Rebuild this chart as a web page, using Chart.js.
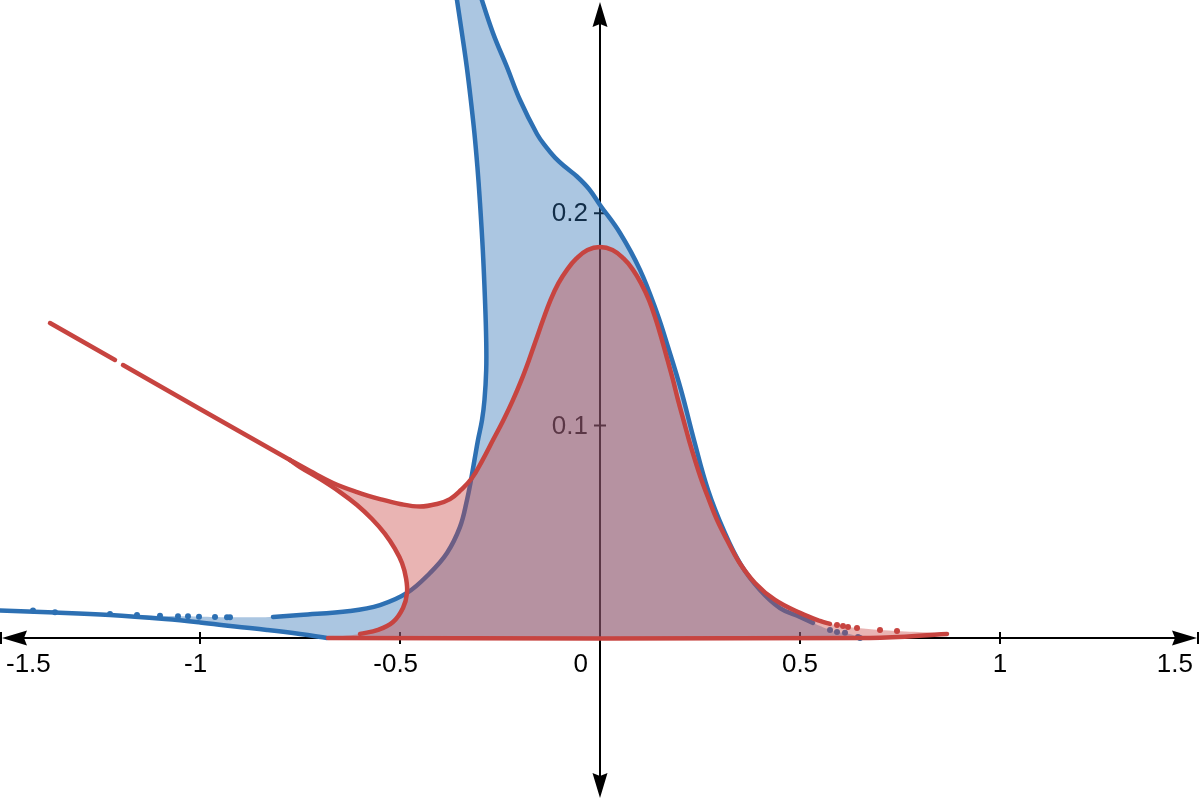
<!DOCTYPE html>
<html>
<head>
<meta charset="utf-8">
<title>Two shaded curves</title>
<script src="https://cdn.jsdelivr.net/npm/chart.js@4.4.1/dist/chart.umd.min.js"></script>
<style>
  html, body { margin: 0; padding: 0; background: #fff; }
  canvas { display: block; }
</style>
</head>
<body>
<canvas id="graph" width="1200" height="800"></canvas>
<script>
// Values, in graph units.
const xTicks = [-1.5, -1, -0.5, 0.5, 1, 1.5];
const yTicks = [0.1, 0.2];

// blue curve: left branch, top to bottom
const blueLeftX = [-0.3613, -0.3445, -0.333, -0.323, -0.314, -0.3065, -0.3005, -0.293, -0.2875, -0.2845, -0.2845, -0.2888, -0.295, -0.305, -0.3138, -0.3225, -0.3325, -0.35, -0.3825, -0.425, -0.4825, -0.55, -0.625, -0.75, -0.8175];
const blueLeftY = [0.3051, 0.2839, 0.2688, 0.2533, 0.2378, 0.2218, 0.2062, 0.1827, 0.1591, 0.1403, 0.1262, 0.1121, 0.1026, 0.0932, 0.0838, 0.0744, 0.0650, 0.0523, 0.0400, 0.0306, 0.0212, 0.0155, 0.0127, 0.0108, 0.0099];
// blue curve: broken (dotted) stretch on the far left
const blueDotsX = [-1.4175, -1.3625, -1.225, -1.1575, -1.10, -1.055, -1.03, -1.0025, -0.9625, -0.9325, -0.925];
const blueDotsY = [0.0129, 0.0121, 0.0113, 0.0108, 0.0104, 0.0102, 0.0102, 0.0100, 0.0099, 0.0097, 0.0097];
// blue curve: lower edge running down to the x axis
const blueLowX = [-1.5, -1.3625, -1.225, -1.0875, -1.0, -0.9125, -0.8325, -0.75, -0.6825];
const blueLowY = [0.0129, 0.0120, 0.0108, 0.0089, 0.0073, 0.0054, 0.0038, 0.0019, 0];
// blue curve: right branch, top to bottom
const blueRightX = [-0.3033, -0.2675, -0.2325, -0.20, -0.1575, -0.135, -0.1125, -0.085, -0.0575, -0.0275, 0, 0.05, 0.10, 0.1425, 0.17, 0.2025, 0.235, 0.27, 0.31, 0.3525, 0.40, 0.45, 0.50, 0.5325];
const blueRightY = [0.305, 0.2848, 0.2688, 0.2533, 0.2373, 0.2312, 0.2262, 0.2215, 0.2173, 0.2114, 0.2039, 0.1907, 0.1733, 0.1530, 0.1370, 0.1168, 0.0932, 0.0697, 0.0504, 0.0344, 0.0226, 0.0141, 0.0099, 0.0071];
const blueTailX = [0.575, 0.5925, 0.6125, 0.645, 0.65];
const blueTailY = [0.0038, 0.0028, 0.0024, 0.0005, 0];

// red curve: straight run from the upper left (with its small gap)
const redStraightX = [-1.375, -1.2125, -1.2025, -1.1925, -1.0, -0.775];
const redStraightY = [0.1483, 0.1309, null, 0.1285, 0.1078, 0.0838];
// red curve: upper branch over the bump
const redUpperX = [-0.775, -0.725, -0.6675, -0.6075, -0.55, -0.50, -0.45, -0.4075, -0.375, -0.3475, -0.32, -0.295, -0.2675, -0.2413, -0.2175, -0.1963, -0.1775, -0.16, -0.1425, -0.1238, -0.1038, -0.0813, -0.0588, -0.0313, 0,
  0.0313, 0.0588, 0.0813, 0.1025, 0.1225, 0.14, 0.155, 0.1688, 0.1825, 0.195, 0.2088, 0.2225, 0.2375, 0.2538, 0.2725, 0.2925, 0.3175, 0.3475, 0.3875, 0.4375, 0.50, 0.55, 0.575];
const redUpperY = [0.0838, 0.0786, 0.0730, 0.0687, 0.0654, 0.0631, 0.0619, 0.0631, 0.0654, 0.0697, 0.0753, 0.0833, 0.0932, 0.1026, 0.1121, 0.1215, 0.1309, 0.1403, 0.1497, 0.1591, 0.1671, 0.1737, 0.1787, 0.1827, 0.1841,
  0.1827, 0.1787, 0.1737, 0.1671, 0.1591, 0.1497, 0.1403, 0.1309, 0.1215, 0.1121, 0.1026, 0.0932, 0.0838, 0.0744, 0.0650, 0.0556, 0.0461, 0.0358, 0.0259, 0.0179, 0.0118, 0.0080, 0.0066];
const redTailX = [0.5925, 0.6075, 0.62, 0.6425, 0.70, 0.7425];
const redTailY = [0.0061, 0.0056, 0.0052, 0.0047, 0.0038, 0.0033];
// red curve: lower branch that curls down to the axis
const redLowerX = [-0.775, -0.75, -0.70, -0.65, -0.6075, -0.57, -0.5375, -0.5125, -0.495, -0.485, -0.4825, -0.4925, -0.5175, -0.555, -0.60];
const redLowerY = [0.0838, 0.0805, 0.0749, 0.0687, 0.0626, 0.0560, 0.0490, 0.0419, 0.0353, 0.0282, 0.0212, 0.0141, 0.0075, 0.0038, 0.0019];
// red curve: flat edge along the x axis and its thin right tip
const redBaseX = [-0.68, 0.675, 0.8675];
const redBaseY = [0, 0, 0.0019];

const BLUE = "#2d70b3";
const RED = "#c74440";
const TENSION = 0.4;

function pts(xs, ys) {
  return xs.map((x, i) => ({ x: x, y: ys[i] }));
}

const blueFill = [
  ...pts(blueLeftX, blueLeftY),
  ...pts(blueDotsX, blueDotsY).reverse(),
  ...pts(blueLowX, blueLowY),
  ...pts(blueTailX, blueTailY).reverse(),
  ...pts(blueRightX, blueRightY).reverse()
];
const redLast = redUpperX[redUpperX.length - 1];
const redFill = [
  ...pts(redUpperX, redUpperY),
  ...pts(redTailX, redTailY).filter(p => p.x > redLast),
  ...pts(redBaseX, redBaseY).reverse(),
  ...pts(redLowerX, redLowerY).reverse()
];

function fillSet(data, color, order) {
  return {
    data: data, showLine: true, fill: "shape", backgroundColor: color,
    borderColor: "transparent", borderWidth: 1, pointRadius: 0, tension: TENSION, order: order
  };
}
function lineSet(data, color, order) {
  return {
    data: data, showLine: true, fill: false, borderColor: color, borderWidth: 4.5,
    borderCapStyle: "round", borderJoinStyle: "round", pointRadius: 0, tension: TENSION, order: order
  };
}
function dotSet(data, color, order) {
  return {
    data: data, showLine: false, pointRadius: 3, pointBorderWidth: 0,
    pointBackgroundColor: color, pointBorderColor: color, order: order
  };
}

// Desmos style axes with arrows, drawn under the shading
function arrow(ctx, tx, ty, dx, dy) {
  const L = 25, W = 7.5, N = 3;
  const bx = tx - dx * L, by = ty - dy * L;
  ctx.beginPath();
  ctx.moveTo(tx, ty);
  ctx.lineTo(bx - dy * W, by + dx * W);
  ctx.lineTo(tx - dx * (L - N), ty - dy * (L - N));
  ctx.lineTo(bx + dy * W, by - dx * W);
  ctx.closePath();
  ctx.fill();
}

const axesPlugin = {
  id: "desmosAxes",
  beforeDatasetsDraw(chart) {
    const { ctx, chartArea: a, scales: { x, y } } = chart;
    const ox = x.getPixelForValue(0), oy = y.getPixelForValue(0);
    ctx.save();
    ctx.strokeStyle = "#000";
    ctx.fillStyle = "#000";
    ctx.lineWidth = 2;
    ctx.beginPath();
    ctx.moveTo(a.left + 6, oy); ctx.lineTo(a.right - 6, oy);
    ctx.moveTo(ox, a.top + 6); ctx.lineTo(ox, a.bottom - 6);
    ctx.stroke();
    arrow(ctx, a.left + 2, oy, -1, 0);
    arrow(ctx, a.right - 3, oy, 1, 0);
    arrow(ctx, ox, a.top + 2, 0, -1);
    arrow(ctx, ox, a.bottom - 2, 0, 1);

    ctx.beginPath();
    xTicks.forEach(v => {
      const px = Math.min(Math.max(x.getPixelForValue(v), a.left + 1), a.right - 2);
      ctx.moveTo(px, oy - 6); ctx.lineTo(px, oy + 6);
    });
    yTicks.forEach(v => {
      const py = y.getPixelForValue(v);
      ctx.moveTo(ox - 6, py); ctx.lineTo(ox + 6, py);
    });
    ctx.stroke();

    ctx.font = '26px "Liberation Sans", Arial, sans-serif';
    ctx.textBaseline = "alphabetic";
    ctx.textAlign = "left";
    const minusW = ctx.measureText("-").width;
    xTicks.forEach(v => {
      const body = String(Math.abs(v));
      const w = ctx.measureText(body).width;
      const px = x.getPixelForValue(v);
      let start = px - w / 2 - (v < 0 ? minusW : 0);
      let end = px + w / 2;
      if (start < a.left + 6) { end += a.left + 6 - start; start = a.left + 6; }
      if (end > a.right - 7) { start -= end - (a.right - 7); end = a.right - 7; }
      ctx.fillText((v < 0 ? "-" : "") + body, start, oy + 34);
    });
    ctx.textAlign = "right";
    ctx.fillText("0", ox - 12, oy + 34);
    yTicks.forEach(v => {
      ctx.fillText(String(v), ox - 12, y.getPixelForValue(v) + 8);
    });
    ctx.restore();
  }
};

new Chart(document.getElementById("graph"), {
  type: "scatter",
  data: {
    datasets: [
      fillSet(blueFill, "rgba(45, 112, 179, 0.4)", 40),
      lineSet(pts(blueLeftX, blueLeftY), BLUE, 30),
      lineSet(pts(blueLowX, blueLowY), BLUE, 30),
      lineSet(pts(blueRightX, blueRightY), BLUE, 30),
      dotSet(pts(blueDotsX, blueDotsY), BLUE, 30),
      dotSet(pts(blueTailX, blueTailY), BLUE, 30),
      fillSet(redFill, "rgba(199, 68, 64, 0.4)", 20),
      lineSet(pts(redStraightX, redStraightY), RED, 10),
      lineSet(pts(redUpperX, redUpperY), RED, 10),
      lineSet(pts(redLowerX, redLowerY), RED, 10),
      lineSet(pts(redBaseX, redBaseY), RED, 10),
      dotSet(pts(redTailX, redTailY), RED, 10)
    ]
  },
  options: {
    responsive: false,
    animation: false,
    devicePixelRatio: 1,
    events: [],
    layout: { padding: 0, autoPadding: false },
    plugins: { legend: { display: false }, tooltip: { enabled: false } },
    scales: {
      x: { type: "linear", min: -1.5, max: 1.5, display: false },
      y: { type: "linear", min: -0.0763, max: 0.3004, display: false }
    }
  },
  plugins: [axesPlugin]
});
</script>
</body>
</html>
